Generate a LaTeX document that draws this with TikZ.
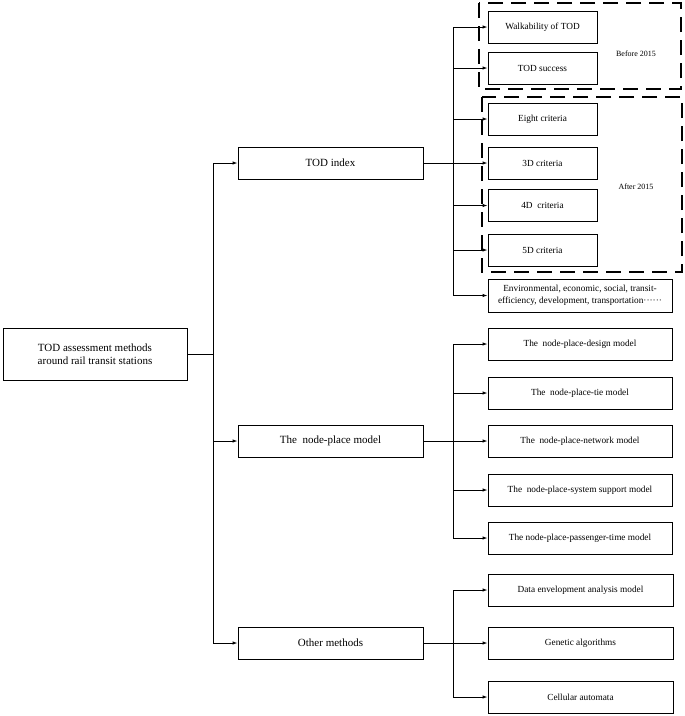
\documentclass[tikz,border=0pt]{standalone}
\usepackage{fontspec}
\setmainfont{Liberation Serif}
\usetikzlibrary{arrows.meta}
\begin{document}
\begin{tikzpicture}[x=1pt,y=-1pt,
 box/.style={draw, line width=0.9pt, inner sep=0pt, align=center},
 big/.style={box, minimum width=185pt, minimum height=32pt, font=\fontsize{11}{13.5}\selectfont},
 kid/.style={box, minimum width=109pt, minimum height=32pt, font=\fontsize{9.3}{11}\selectfont},
 wkid/.style={box, minimum width=184pt, minimum height=32pt, font=\fontsize{9.3}{11.5}\selectfont},
 arr/.style={-{Latex[length=5pt,width=3.5pt]}, line width=0.9pt},
 ln/.style={line width=0.9pt},
 dbox/.style={dash pattern=on 15pt off 8pt, line width=1.2pt},
 lab/.style={font=\fontsize{8}{10}\selectfont}]
\useasboundingbox (0,0) rectangle (685,716);
% dashed groups
\draw[dbox] (479,3) rectangle (681,89);
\draw[dbox] (482,97) rectangle (682,272);
\node[lab] (before) at (636,54) {Before 2015};
\node[lab] (after) at (636,187) {After 2015};
% root and level 1
\node[big, minimum width=184pt, minimum height=52pt] (root) at (95,354) {TOD assessment methods\\around rail transit stations};
\node[big] (tod) at (330.5,163) {TOD index};
\node[big] (np) at (330.5,441) {The\ \ node-place model};
\node[big] (oth) at (330.5,643) {Other methods};
% TOD children
\node[kid] (walk) at (542.5,27) {Walkability of TOD};
\node[kid] (succ) at (542.5,68) {TOD success};
\node[kid] (eight) at (542.5,119) {Eight criteria};
\node[kid] (d3) at (542.5,163) {3D criteria};
\node[kid] (d4) at (542.5,205.5) {4D\ \ criteria};
\node[kid] (d5) at (542.5,250) {5D criteria};
\node[wkid, minimum height=33pt] (env) at (580,295.5) {Environmental, economic, social, transit-\\efficiency, development, transportation\textperiodcentered\textperiodcentered\textperiodcentered\textperiodcentered\textperiodcentered\textperiodcentered};
% node-place children
\node[wkid] (npd) at (580,344) {The\ \ node-place-design model};
\node[wkid] (npt) at (580,393) {The\ \ node-place-tie model};
\node[wkid] (npn) at (580,441) {The\ \ node-place-network model};
\node[wkid] (nps) at (580,490) {The\ \ node-place-system support model};
\node[wkid] (npp) at (580,538) {The node-place-passenger-time model};
% other children
\node[wkid, minimum width=185pt] (dea) at (580.5,590) {Data envelopment analysis model};
\node[wkid, minimum width=185pt] (gen) at (580.5,643) {Genetic algorithms};
\node[wkid, minimum width=185pt] (cell) at (580.5,697) {Cellular automata};
% trunk
\coordinate (tr) at (213,354);
\draw[ln] (root.east) -- (tr);
\draw[arr] (tr) |- (tod.west);
\draw[arr] (tr) |- (np.west);
\draw[arr] (tr) |- (oth.west);
% TOD branch
\coordinate (bt) at (453,163);
\draw[arr] (tod.east) -- (d3.west);
\foreach \n in {walk,succ,eight,d4,d5,env} \draw[arr] (bt) |- (\n.west);
% node-place branch
\coordinate (bn) at (453,441);
\draw[arr] (np.east) -- (npn.west);
\foreach \n in {npd,npt,nps,npp} \draw[arr] (bn) |- (\n.west);
% other branch
\coordinate (bo) at (453,643);
\draw[arr] (oth.east) -- (gen.west);
\foreach \n in {dea,cell} \draw[arr] (bo) |- (\n.west);
\end{tikzpicture}
\end{document}
